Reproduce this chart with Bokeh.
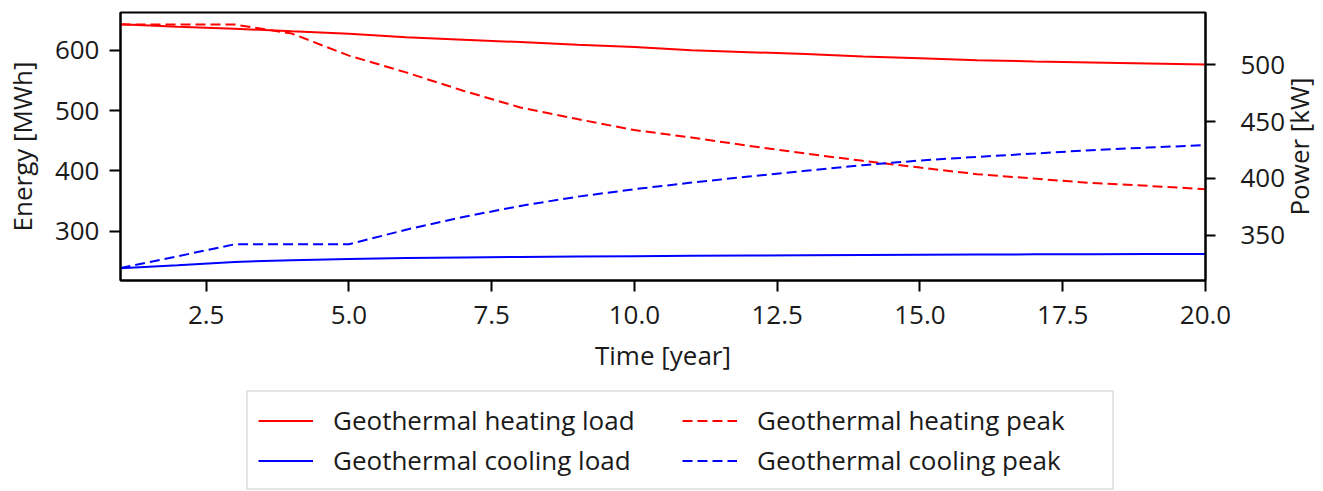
import math
from bokeh.plotting import figure
from bokeh.layouts import column, row
from bokeh.models import Range1d, LinearAxis, FixedTicker, NumeralTickFormatter, Legend, LegendItem, Label
from bokeh.embed import file_html
from bokeh.resources import INLINE

years = list(range(1, 21))
heating_load = [643.3, 639.5, 636.1, 631.7, 627.8, 621.7, 617.8, 613.9, 609.4, 605.6,
                600.5, 597.2, 593.9, 590.0, 587.2, 583.9, 581.7, 580.0, 578.3, 576.7]
cooling_load = [238.3, 243.3, 248.9, 251.8, 253.9, 255.2, 256.2, 257.0, 257.7, 258.3,
                258.9, 259.4, 259.9, 260.3, 260.7, 261.1, 261.4, 261.7, 262.0, 262.2]
heating_peak = [535.2, 535.2, 535.2, 527.3, 507.9, 493.2, 477.1, 462.4, 452.2, 442.5,
                436.0, 428.7, 421.9, 415.5, 409.6, 403.8, 399.9, 396.1, 393.5, 390.6]
cooling_peak = [321.3, 331.7, 342.2, 342.2, 342.2, 355.0, 366.2, 375.9, 384.0, 390.6,
                396.4, 401.7, 406.7, 411.7, 415.8, 419.0, 421.9, 424.9, 427.2, 429.3]

x_ticks = [2.5, 5.0, 7.5, 10.0, 12.5, 15.0, 17.5, 20.0]
energy_ticks = [300, 400, 500, 600]
power_ticks = [350, 400, 450, 500]
labels = ["Geothermal heating load", "Geothermal cooling load",
          "Geothermal heating peak", "Geothermal cooling peak"]
right_title = "Power [kW]"

FONT = "Open Sans"
FS = "26px"
TXT = "#1a1a1a"
RED, BLUE = "#ff0000", "#0000ff"
DASH = "10 5"
E_RANGE = (218, 663)

p = figure(frame_width=1085, frame_height=268, output_backend="svg", toolbar_location=None,
           x_range=Range1d(1, 20), y_range=Range1d(*E_RANGE),
           min_border_left=119, min_border_right=82, min_border_top=12, min_border_bottom=100)
p.extra_y_ranges = {"power": Range1d(310.4, 545.8)}
p.xgrid.visible = False
p.ygrid.visible = False
p.outline_line_color = "black"
p.outline_line_width = 2
p.outline_line_alpha = 1.0

right_axis = LinearAxis(y_range_name="power")
p.add_layout(right_axis, "right")

p.xaxis.ticker = FixedTicker(ticks=x_ticks)
p.xaxis.formatter = NumeralTickFormatter(format="0.0")
p.yaxis[0].ticker = FixedTicker(ticks=energy_ticks)
right_axis.ticker = FixedTicker(ticks=power_ticks)

p.xaxis.axis_label = "Time [year]"
p.yaxis[0].axis_label = "Energy [MWh]"

for ax in p.axis:
    ax.axis_line_width = 2
    ax.axis_line_color = "black"
    ax.major_tick_line_width = 2
    ax.major_tick_line_color = "black"
    ax.major_tick_out = 11
    ax.major_tick_in = 0
    ax.minor_tick_out = 0
    ax.minor_tick_in = 0
    ax.major_label_text_font = FONT
    ax.major_label_text_font_size = FS
    ax.major_label_text_color = TXT
    ax.axis_label_text_font = FONT
    ax.axis_label_text_font_size = FS
    ax.axis_label_text_font_style = "normal"
    ax.axis_label_text_color = TXT

p.xaxis.major_label_standoff = 14
p.xaxis.axis_label_standoff = 10
p.yaxis[0].major_label_standoff = 10
p.yaxis[0].axis_label_standoff = 12
right_axis.major_label_standoff = 25
right_axis.major_tick_out = 10

p.line(years, heating_load, line_color=RED, line_width=2)
p.line(years, cooling_load, line_color=BLUE, line_width=2)
p.line(years, heating_peak, line_color=RED, line_width=2, line_dash=DASH, y_range_name="power")
p.line(years, cooling_peak, line_color=BLUE, line_width=2, line_dash=DASH, y_range_name="power")

# narrow strip on the right that carries the right axis title (reads bottom-to-top)
side = figure(width=37, height=380, output_backend="svg", toolbar_location=None,
              x_axis_type=None, y_axis_type=None,
              min_border_left=0, min_border_right=0, min_border_top=12, min_border_bottom=100,
              x_range=Range1d(0, 37), y_range=Range1d(*E_RANGE))
side.outline_line_color = None
side.xgrid.visible = False
side.ygrid.visible = False
side.add_layout(Label(x=10, y=sum(E_RANGE) / 2, text=right_title, angle=math.pi / 2,
                      text_align="center", text_baseline="middle",
                      text_font=FONT, text_font_size=FS, text_color=TXT))

# legend strip below the chart (its lines lie outside its own view; only the key is shown)
lg = figure(width=1323, height=111, output_backend="svg", toolbar_location=None,
            x_axis_type=None, y_axis_type=None, min_border=0,
            x_range=Range1d(100, 101), y_range=Range1d(0, 1))
lg.outline_line_color = None
lg.xgrid.visible = False
lg.ygrid.visible = False
k_hl = lg.line(years, heating_load, line_color=RED, line_width=2)
k_cl = lg.line(years, cooling_load, line_color=BLUE, line_width=2)
k_hp = lg.line(years, heating_peak, line_color=RED, line_width=2, line_dash=DASH)
k_cp = lg.line(years, cooling_peak, line_color=BLUE, line_width=2, line_dash=DASH)

legend = Legend(items=[
    LegendItem(label=labels[0], renderers=[k_hl]),
    LegendItem(label=labels[1], renderers=[k_cl]),
    LegendItem(label=labels[2], renderers=[k_hp]),
    LegendItem(label=labels[3], renderers=[k_cp]),
], orientation="vertical", ncols=2, location=(246, 1))
legend.label_text_font = FONT
legend.label_text_font_size = FS
legend.label_text_color = TXT
legend.glyph_width = 55
legend.glyph_height = 33
legend.label_height = 33
legend.label_width = 345
legend.label_standoff = 20
legend.spacing = 4
legend.padding = 10
legend.margin = 0
legend.border_line_color = "#cccccc"
legend.border_line_width = 2
legend.background_fill_alpha = 0.8
lg.add_layout(legend, "center")

page = column(row(p, side, spacing=0), lg, spacing=0)
open("out.html", "w").write(file_html(page, INLINE))
